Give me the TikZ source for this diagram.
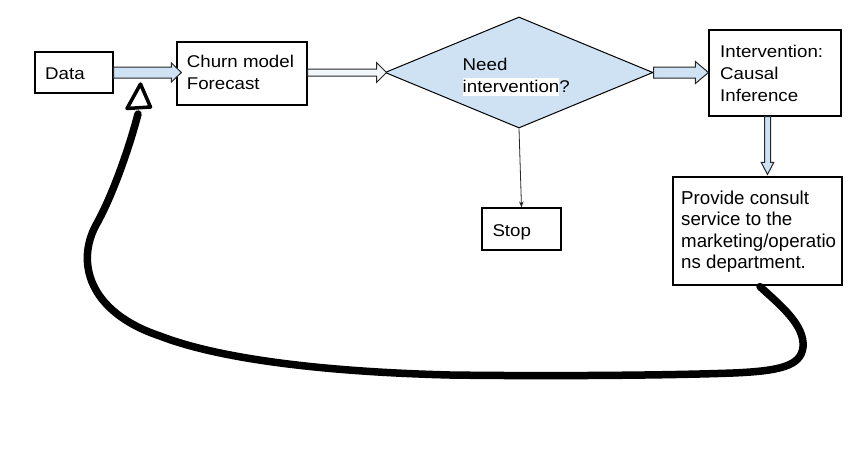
\documentclass[tikz,border=0pt]{standalone}
\usepackage{fontspec}
\setmainfont{Liberation Sans}[FakeStretch=1.1]
\newfontfamily\provfont{Liberation Sans}
\usetikzlibrary{shapes.geometric,calc,arrows.meta}
\definecolor{lb}{HTML}{CFE2F3}
\definecolor{lbpale}{HTML}{F2F7FC}
\newcommand\tst{\rule{0pt}{15pt}}
\newcommand\hlw[1]{{\setlength\fboxsep{0pt}\colorbox{white}{\rule[-3.5pt]{0pt}{18pt}#1}}}
% horizontal block arrow: start, tip, shaft half, head half, head length, fill
\newcommand\harrow[6]{%
  \draw[barrow, fill=#6] let \p1=(#1), \p2=(#2) in
    (\x1,\y1+#3) -- (\x2-#5,\y1+#3) -- (\x2-#5,\y1+#4) -- (\x2,\y1)
    -- (\x2-#5,\y1-#4) -- (\x2-#5,\y1-#3) -- (\x1,\y1-#3) -- cycle;}
% vertical (downward) block arrow: start, tip, shaft half, head half, head length
\newcommand\varrow[5]{%
  \draw[barrow, fill=lb] let \p1=(#1), \p2=(#2) in
    (\x1-#3,\y1) -- (\x1-#3,\y2+#5) -- (\x1-#4,\y2+#5) -- (\x1,\y2)
    -- (\x1+#4,\y2+#5) -- (\x1+#3,\y2+#5) -- (\x1+#3,\y1) -- cycle;}
\begin{document}
\begin{tikzpicture}[x=1pt,y=-1pt,
  box/.style={draw=black, line width=1.2pt, fill=white, inner sep=0pt, rectangle},
  txt/.style={inner sep=0pt, anchor=north west, align=left, font=\fontsize{17}{22}\selectfont},
  txtbig/.style={txt, font=\provfont\fontsize{18.7}{21.5}\selectfont},
  barrow/.style={draw=black!85, line width=1pt, line join=miter},
  loopline/.style={line width=7.5pt, line cap=round, draw=black},
  thin/.style={draw=black!85, line width=0.8pt, -{Stealth[length=6pt,width=4.5pt]}}]

\useasboundingbox (0,0) rectangle (852,464);
\fill[white] (0,0) rectangle (852,464);

% boxes
\node[box, minimum width=78pt, minimum height=41pt] (data) at (74,72.5) {};
\node[box, minimum width=130pt, minimum height=63pt] (churn) at (242,73.5) {};
\node[diamond, draw=black, line width=1pt, fill=lb, inner sep=0pt,
      minimum width=268pt, minimum height=111pt] (dia) at (519,72.5) {};
\node[box, minimum width=132pt, minimum height=86pt] (int) at (775,73) {};
\node[box, minimum width=169pt, minimum height=108pt] (prov) at (757.5,231) {};
\node[box, minimum width=79pt, minimum height=42pt] (stop) at (521.5,229) {};

% texts
\node[txt] (dataT) at (45,64.3) {\tst Data};
\node[txt] (churnT) at (186.7,52.7) {\tst Churn model\\Forecast};
\node[txt] (diaT) at (462.5,55) {\tst Need\\\hlw{intervention}?};
\node[txt] (intT) at (720,42) {\tst Intervention:\\Causal\\Inference};
\node[txtbig] (provT) at (681,189) {\tst Provide consult\\service to the\\marketing/operatio\\ns department.};
\node[txt] (stopT) at (492.3,221.7) {\tst Stop};

% block arrows
\coordinate (a1tip) at ($(churn.west)+(5,0)$);
\harrow{data.east}{a1tip}{5.5pt}{9.5pt}{10pt}{lb}
\coordinate (a2start) at (churn.east |- dia.west);
\coordinate (a2tip) at ($(dia.west)+(2,0)$);
\harrow{a2start}{a2tip}{3.5pt}{10pt}{10pt}{lbpale}
\harrow{dia.east}{int.west}{5.5pt}{11pt}{13pt}{lb}
\coordinate (a4start) at ($(int.south)+(-7.5,0)$);
\coordinate (a4tip) at ($(a4start |- prov.north)+(0,-2)$);
\varrow{a4start}{a4tip}{3pt}{6.3pt}{12pt}

% thin arrow to stop
\draw[thin] (dia.south) -- (stop.north);

% feedback loop
\coordinate (loopstart) at ($(prov.south)+(2.5,1)$);
\coordinate (loopend) at (138,114);
\draw[loopline] (loopstart)
  .. controls (780,305) and (805,325) .. (803,347)
  .. controls (801,366) and (780,371) .. (733,373)
  .. controls (650,376) and (520,376) .. (450,375)
  .. controls (330,372) and (222,360) .. (160,336)
  .. controls (88,312) and (76,262) .. (96,225)
  .. controls (113,195) and (130,145) .. (loopend);
\draw[line width=3.5pt, line join=round, fill=white, draw=black]
  ($(loopend)+(2.5,-30)$) -- ($(loopend)+(12.5,-7)$) -- ($(loopend)+(-11,-5.5)$) -- cycle;
\end{tikzpicture}
\end{document}
